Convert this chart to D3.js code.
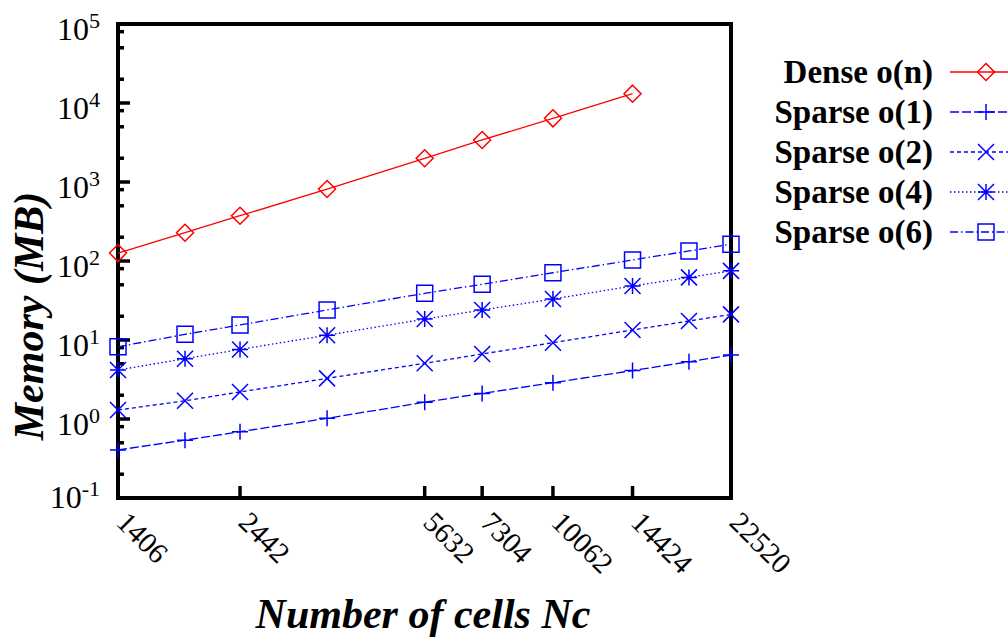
<!DOCTYPE html>
<html>
<head>
<meta charset="utf-8">
<script src="https://cdn.jsdelivr.net/npm/d3@7"></script>
<style>
  html, body { margin: 0; padding: 0; background: #fff; }
  svg { display: block; }
</style>
</head>
<body>
<svg id="chart" width="1008" height="644" font-family="'Liberation Serif', 'Times New Roman', Times, 'DejaVu Serif', serif"></svg>
<script>
// ---- data ----
const cells = [1406, 1904, 2442, 3621, 5632, 7304, 10062, 14424, 18620, 22520];
const xTickValues = [1406, 2442, 5632, 7304, 10062, 14424, 22520];
const yTickExponents = [-1, 0, 1, 2, 3, 4, 5];
const denseOn = [126, 228, 374, 815, 1996, 3404, 6397, 13120];
const sparseO1 = [0.405, 0.54, 0.69, 1.02, 1.63, 2.11, 2.88, 4.1, 5.3, 6.46];
const sparseO2 = [1.3, 1.7, 2.2, 3.27, 5.07, 6.65, 9.25, 13.4, 17.4, 21.1];
const sparseO4 = [4.17, 5.8, 7.6, 11.5, 18.4, 24, 33, 48.3, 62, 75];
const sparseO6 = [8.2, 11.8, 15.5, 24, 39, 50.7, 71, 103, 134, 163];
const seriesNames = ["Dense o(n)", "Sparse o(1)", "Sparse o(2)", "Sparse o(4)", "Sparse o(6)"];
const xTitle = "Number of cells Nc";
const yTitle = "Memory (MB)";

const series = [
  { name: seriesNames[0], values: denseOn, color: "#ff0000", dash: null, marker: "diamond" },
  { name: seriesNames[1], values: sparseO1, color: "#0000ff", dash: "9,3", marker: "plus" },
  { name: seriesNames[2], values: sparseO2, color: "#0000ff", dash: "4,3", marker: "cross" },
  { name: seriesNames[3], values: sparseO4, color: "#0000ff", dash: "1.5,2.5", marker: "star" },
  { name: seriesNames[4], values: sparseO6, color: "#0000ff", dash: "8,3,1.5,3", marker: "square" }
];

const FONT = "'Liberation Serif', 'Times New Roman', Times, 'DejaVu Serif', serif";

// ---- layout ----
const L = 118, R = 731, T = 24, B = 498;
const svg = d3.select("#chart");
const x = d3.scaleLog().domain([1406, 22520]).range([L, R]);
const y = d3.scaleLog().domain([0.1, 1e5]).range([B, T]);

function markerPath(type, s) {
  const p = d3.path();
  if (type === "diamond") {
    p.moveTo(0, -s); p.lineTo(s, 0); p.lineTo(0, s); p.lineTo(-s, 0); p.closePath();
  } else if (type === "plus") {
    p.moveTo(-s, 0); p.lineTo(s, 0); p.moveTo(0, -s); p.lineTo(0, s);
  } else if (type === "cross") {
    p.moveTo(-s, -s); p.lineTo(s, s); p.moveTo(-s, s); p.lineTo(s, -s);
  } else if (type === "star") {
    p.moveTo(-s, 0); p.lineTo(s, 0); p.moveTo(0, -s); p.lineTo(0, s);
    p.moveTo(-s, -s); p.lineTo(s, s); p.moveTo(-s, s); p.lineTo(s, -s);
  } else if (type === "square") {
    p.rect(-s, -s, 2 * s, 2 * s);
  }
  return p.toString();
}
const markerSize = { diamond: 8.5, plus: 8, cross: 8, star: 8, square: 8 };

// ---- minor y ticks (2, 5, 8 per decade) ----
const minorTicks = [];
for (let e = -1; e < 5; e++) {
  [2, 5, 8].forEach(m => minorTicks.push(m * Math.pow(10, e)));
}
svg.append("g").selectAll("line").data(minorTicks).join("line")
  .attr("x1", L).attr("x2", L + 6)
  .attr("y1", d => y(d)).attr("y2", d => y(d))
  .attr("stroke", "#000").attr("stroke-width", 3.5);

// major y ticks
svg.append("g").selectAll("line").data(yTickExponents).join("line")
  .attr("x1", L).attr("x2", L + 12)
  .attr("y1", d => y(Math.pow(10, d))).attr("y2", d => y(Math.pow(10, d)))
  .attr("stroke", "#000").attr("stroke-width", 3.5);

// y tick labels
const yl = svg.append("g").selectAll("text").data(yTickExponents).join("text")
  .attr("x", 100).attr("y", d => y(Math.pow(10, d)) + (d === -1 ? 10 : 16))
  .attr("text-anchor", "end").attr("font-family", FONT).attr("font-size", 32);
yl.append("tspan").text("10");
yl.append("tspan").attr("dy", -12).attr("font-size", 22).text(d => String(d));

// x ticks
svg.append("g").selectAll("line").data(xTickValues).join("line")
  .attr("x1", d => x(d)).attr("x2", d => x(d))
  .attr("y1", B).attr("y2", B - 12)
  .attr("stroke", "#000").attr("stroke-width", 3.5);

svg.append("g").selectAll("text").data(xTickValues).join("text")
  .attr("transform", d => `translate(${x(d) - 3},${B + 26}) rotate(45)`)
  .attr("text-anchor", "start").attr("font-family", FONT).attr("font-size", 29)
  .text(d => String(d));

// frame
svg.append("rect").attr("x", L).attr("y", T).attr("width", R - L).attr("height", B - T)
  .attr("fill", "none").attr("stroke", "#000").attr("stroke-width", 4);

// series
const line = d3.line().x(d => x(d[0])).y(d => y(d[1]));
series.forEach(s => {
  const pts = s.values.map((v, i) => [cells[i], v]);
  svg.append("path").attr("d", line(pts))
    .attr("fill", "none").attr("stroke", s.color).attr("stroke-width", 1.3)
    .attr("stroke-dasharray", s.dash);
  svg.append("g").selectAll("path").data(pts).join("path")
    .attr("transform", d => `translate(${x(d[0])},${y(d[1])})`)
    .attr("d", markerPath(s.marker, markerSize[s.marker]))
    .attr("fill", "none").attr("stroke", s.color).attr("stroke-width", 1.5);
});

// legend
const legY0 = 72, legStep = 40;
series.forEach((s, i) => {
  const yy = legY0 + i * legStep;
  svg.append("text").attr("x", 933).attr("y", yy + 11)
    .attr("text-anchor", "end").attr("font-family", FONT).attr("font-size", 33).attr("font-weight", "bold")
    .text(s.name);
  svg.append("line").attr("x1", 950).attr("x2", 1010).attr("y1", yy).attr("y2", yy)
    .attr("stroke", s.color).attr("stroke-width", 1.3).attr("stroke-dasharray", s.dash);
  svg.append("path").attr("transform", `translate(986,${yy})`)
    .attr("d", markerPath(s.marker, markerSize[s.marker]))
    .attr("fill", "none").attr("stroke", s.color).attr("stroke-width", 1.5);
});

// axis titles
svg.append("text").attr("x", 423).attr("y", 628).attr("text-anchor", "middle")
  .attr("font-family", FONT).attr("font-size", 42).attr("font-weight", "bold").attr("font-style", "italic")
  .text(xTitle);
svg.append("text").attr("transform", "translate(43,316) rotate(-90)").attr("text-anchor", "middle")
  .attr("font-family", FONT).attr("font-size", 42).attr("font-weight", "bold").attr("font-style", "italic")
  .text(yTitle);
</script>
</body>
</html>
